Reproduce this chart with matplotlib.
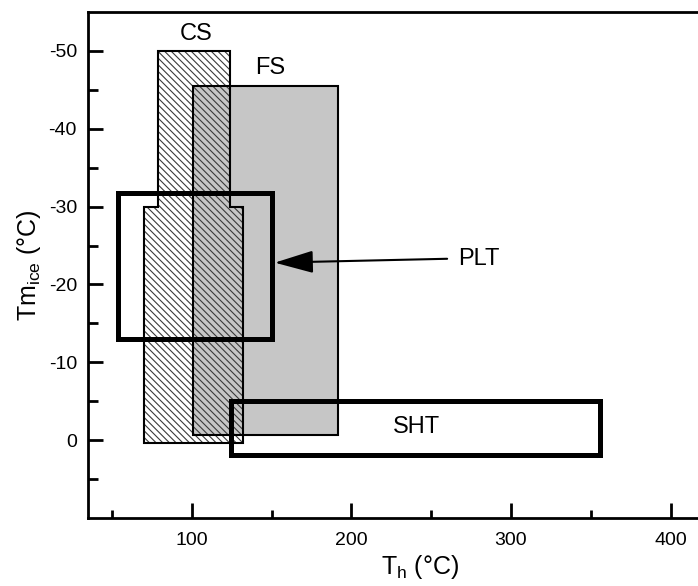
import matplotlib
matplotlib.use("Agg")
import matplotlib.pyplot as plt
from matplotlib.patches import Polygon, Rectangle
from matplotlib.ticker import FixedLocator

plt.rcParams['font.family'] = ['Liberation Sans', 'DejaVu Sans']
plt.rcParams['hatch.linewidth'] = 0.8
plt.rcParams['hatch.color'] = '#3a3a3a'
plt.rcParams['mathtext.fontset'] = 'custom'
plt.rcParams['mathtext.rm'] = 'Liberation Sans'

# ---- data (Th in °C, Tm_ice in °C) ----
cs_th = [79, 124, 124, 132, 132, 70, 70, 79]
cs_tm = [-50, -50, -30, -30, 0.4, 0.4, -30, -30]

fs_th = [100.5, 191.5]
fs_tm = [-45.5, -0.6]

plt_th = [53.5, 150]
plt_tm = [-31.8, -13]

sht_th = [124.5, 356]
sht_tm = [-5, 1.9]

labels = ["CS", "FS", "PLT", "SHT"]
label_th = [102.5, 149, 267, 241]
label_tm = [-52.2, -47.8, -23.3, -1.7]

arrow_tail = (260, -23.3)
arrow_head = (152, -22.8)

x_major = [100, 200, 300, 400]
x_minor = [50, 150, 250, 350]
y_major = [-50, -40, -30, -20, -10, 0]
y_minor = [-45, -35, -25, -15, -5, 5]

fig = plt.figure(figsize=(6.98, 5.86), dpi=100)
ax = fig.add_axes([88/698, 68/586, 664/698, 506/586])
ax.set_xlim(35, 451)
ax.set_ylim(10, -55)

# FS gray box
ax.add_patch(Rectangle((fs_th[0], fs_tm[0]), fs_th[1]-fs_th[0], fs_tm[1]-fs_tm[0],
                       facecolor='#c6c6c6', edgecolor='none', zorder=1))
# CS hatched polygon
ax.add_patch(Polygon(list(zip(cs_th, cs_tm)), closed=True, facecolor='none',
                     edgecolor='#3a3a3a', hatch='\\\\\\\\\\', linewidth=0, zorder=2))
# outlines
ax.add_patch(Rectangle((fs_th[0], fs_tm[0]), fs_th[1]-fs_th[0], fs_tm[1]-fs_tm[0],
                       facecolor='none', edgecolor='black', linewidth=1.5, zorder=3))
ax.add_patch(Polygon(list(zip(cs_th, cs_tm)), closed=True, facecolor='none',
                     edgecolor='black', linewidth=1.5, zorder=3))
ax.add_patch(Rectangle((plt_th[0], plt_tm[0]), plt_th[1]-plt_th[0], plt_tm[1]-plt_tm[0],
                       facecolor='none', edgecolor='black', linewidth=3.6, zorder=4))
ax.add_patch(Rectangle((sht_th[0], sht_tm[0]), sht_th[1]-sht_th[0], sht_tm[1]-sht_tm[0],
                       facecolor='none', edgecolor='black', linewidth=3.6, zorder=4))

for lab, x, y in zip(labels, label_th, label_tm):
    ha = 'left' if lab == 'PLT' else 'center'
    ax.text(x, y, lab, fontsize=17, ha=ha, va='center', zorder=5)

ax.annotate('', xy=arrow_head, xytext=arrow_tail,
            arrowprops=dict(arrowstyle='-|>,head_length=1.2,head_width=0.35',
                            mutation_scale=20,
                            color='black', lw=1.5, shrinkA=0, shrinkB=0), zorder=5)

ax.xaxis.set_major_locator(FixedLocator(x_major))
ax.xaxis.set_minor_locator(FixedLocator(x_minor))
ax.yaxis.set_major_locator(FixedLocator(y_major))
ax.yaxis.set_minor_locator(FixedLocator(y_minor))
ax.tick_params(which='both', direction='in', width=2, labelsize=14)
ax.tick_params(axis='x', which='major', length=10.5, pad=10)
ax.tick_params(axis='x', which='minor', length=6)
ax.tick_params(axis='y', which='major', length=10.5, pad=8)
ax.tick_params(axis='y', which='minor', length=7)
ax.set_yticklabels([str(v) for v in y_major])
for s in ax.spines.values():
    s.set_linewidth(2)

ax.set_xlabel('T$_\\mathregular{h}$ (°C)', fontsize=18, labelpad=3)
ax.set_ylabel('Tm$_\\mathregular{ice}$ (°C)', fontsize=18)
ax.yaxis.set_label_coords(-0.068, 0.5)

fig.savefig('out.png', dpi=100)
